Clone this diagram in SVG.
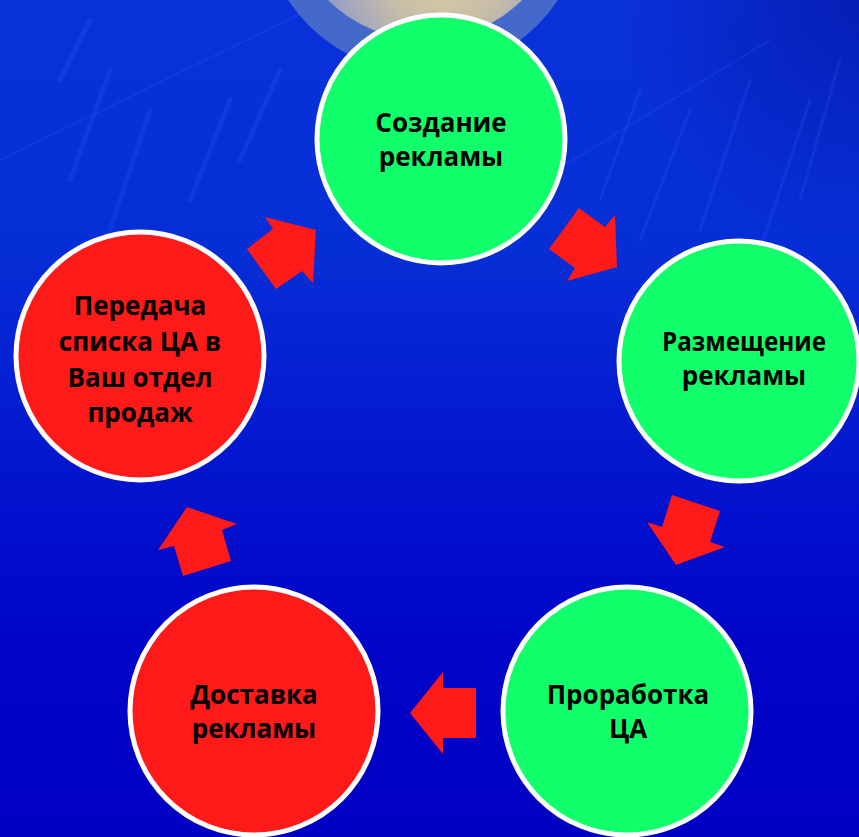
<svg xmlns="http://www.w3.org/2000/svg" width="859" height="837" viewBox="0 0 859 837">
  <defs>
    <linearGradient id="bg" x1="0" y1="0" x2="0" y2="1">
      <stop offset="0" stop-color="#0a32da"/>
      <stop offset="0.3" stop-color="#062ed6"/>
      <stop offset="0.55" stop-color="#0416cf"/>
      <stop offset="0.75" stop-color="#0006c8"/>
      <stop offset="1" stop-color="#0000c4"/>
    </linearGradient>
    <radialGradient id="corner" cx="859" cy="0" r="240" gradientUnits="userSpaceOnUse">
      <stop offset="0" stop-color="#000a90" stop-opacity="0.5"/>
      <stop offset="1" stop-color="#000a90" stop-opacity="0"/>
    </radialGradient>
    <radialGradient id="disc" cx="445" cy="-30" r="140" gradientUnits="userSpaceOnUse">
      <stop offset="0" stop-color="#dcd0a0"/>
      <stop offset="0.45" stop-color="#c4bca8"/>
      <stop offset="0.8" stop-color="#9ca2c2"/>
      <stop offset="1" stop-color="#8692c6"/>
    </radialGradient>
    <style>
      .node circle { stroke: #ffffff; stroke-width: 5; }
      .green { fill: #10ff6a; }
      .red { fill: #ff1a1a; }
      .node text { font-family: "Open Sans", "Liberation Sans", sans-serif; font-weight: bold; font-size: 26px; fill: #000000; text-anchor: middle; }
      .arrow { fill: #ff1a1a; }
      .streak { stroke: #2a60f0; stroke-opacity: 0.22; fill: none; stroke-linecap: round; }
    </style>
  </defs>

  <!-- background -->
  <rect x="0" y="0" width="859" height="837" fill="url(#bg)"/>
  <rect x="0" y="0" width="859" height="837" fill="url(#corner)"/>
  <g class="streak">
    <path d="M0 160 L300 14" stroke-width="2"/>
    <path d="M565 165 L770 40" stroke-width="2"/>
    <path d="M60 80 L90 20" stroke-width="5"/>
    <path d="M70 180 L110 70" stroke-width="5"/>
    <path d="M110 230 L150 110" stroke-width="5"/>
    <path d="M190 200 L230 100" stroke-width="5"/>
    <path d="M240 160 L280 70" stroke-width="5"/>
    <path d="M600 200 L640 90" stroke-width="3"/>
    <path d="M640 240 L690 110" stroke-width="3"/>
    <path d="M700 230 L750 80" stroke-width="3"/>
    <path d="M760 250 L810 100" stroke-width="3"/>
    <path d="M800 200 L840 60" stroke-width="3"/>
  </g>

  <!-- decorative disc at top -->
  <circle cx="423" cy="-88" r="161" fill="#5072c8" fill-opacity="0.85"/>
  <circle cx="425" cy="-98" r="138" fill="url(#disc)"/>

  <!-- connectors -->
  <g id="connectors">
    <polygon class="arrow" points="316,230 313,283 302,271 276,289 247,249 273,229 265,217"/>
    <polygon class="arrow" points="617,267 567,281 575,268 549,249 579,208 605,227 615,215"/>
    <polygon class="arrow" points="676,565 725,547 710,542 720,511 672,495 662,527 647,522"/>
    <polygon class="arrow" points="410,713 443,672 443,688 476,688 476,738 443,738 443,754"/>
    <polygon class="arrow" points="187,507 237,524 222,530 231,561 183,576 174,546 158,550"/>
  </g>

  <!-- nodes -->
  <g id="node-create" class="node">
    <circle class="green" cx="441" cy="139" r="124"/>
    <text x="441" y="132">Создание</text>
    <text x="441" y="166">рекламы</text>
  </g>
  <g id="node-place" class="node">
    <circle class="green" cx="739" cy="361" r="120"/>
    <text x="744" y="351" textLength="164" lengthAdjust="spacingAndGlyphs">Размещение</text>
    <text x="744" y="385">рекламы</text>
  </g>
  <g id="node-work" class="node">
    <circle class="green" cx="627" cy="711" r="124"/>
    <text x="628" y="704">Проработка</text>
    <text x="628" y="738">ЦА</text>
  </g>
  <g id="node-deliver" class="node">
    <circle class="red" cx="254" cy="711" r="124"/>
    <text x="254" y="704">Доставка</text>
    <text x="254" y="738">рекламы</text>
  </g>
  <g id="node-transfer" class="node">
    <circle class="red" cx="140" cy="356" r="124"/>
    <text x="140" y="315">Передача</text>
    <text x="140" y="351">списка ЦА в</text>
    <text x="140" y="387">Ваш отдел</text>
    <text x="140" y="422">продаж</text>
  </g>
</svg>
